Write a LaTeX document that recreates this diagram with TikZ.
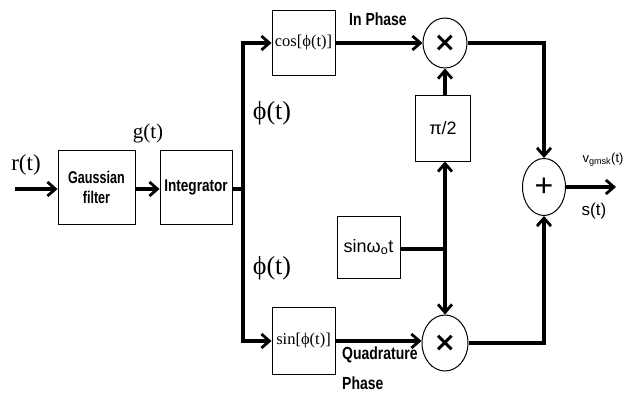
\documentclass[tikz,border=0pt]{standalone}
\usepackage{fontspec}
\setmainfont{Liberation Serif}
\setsansfont{Liberation Sans}
\newfontfamily\nar[FakeStretch=0.8]{Liberation Sans}
\newfontfamily\narr[FakeStretch=0.74]{Liberation Sans}
\newfontfamily\dvs{DejaVu Sans}
\usetikzlibrary{arrows.meta,shapes.geometric}
\begin{document}
\begin{tikzpicture}[x=1pt,y=-1pt,
  blk/.style={draw,line width=0.9pt,inner sep=0pt},
  mul/.style={draw,ellipse,line width=1pt,inner sep=0pt},
  wire/.style={line width=3.4pt},
  arr/.style={wire,-{Straight Barb[length=8pt,width=14pt,line width=2.8pt]}},
  lbl/.style={font=\nar\bfseries\fontsize{17.5}{18}\selectfont,inner sep=0pt},
  ser/.style={font=\fontsize{21}{22}\selectfont,inner sep=0pt}]
\useasboundingbox (0,0) rectangle (626,395);
% blocks
\node[blk,minimum width=77pt,minimum height=74pt,align=center,font=\narr\bfseries\fontsize{17}{20}\selectfont] (gauss) at (96.5,187) {Gaussian\\filter};
\node[blk,minimum width=72pt,minimum height=74pt,font=\nar\bfseries\fontsize{17}{18}\selectfont] (integ) at (196,187) {Integrator};
\node[blk,minimum width=63pt,minimum height=65pt,font=\fontsize{16.5}{17}\selectfont] (cosb) at (303.5,43) {cos[ϕ(t)]};
\node[blk,minimum width=63pt,minimum height=67pt,font=\fontsize{16.5}{17}\selectfont] (sinb) at (303.5,341) {sin[ϕ(t)]};
\node[blk,minimum width=55pt,minimum height=66pt,font=\sffamily\fontsize{18}{20}\selectfont] (pi2) at (443,128) {π/2};
\node[blk,minimum width=63pt,minimum height=62pt,font=\sffamily\fontsize{18}{19}\selectfont] (sinw) at (368.5,247) {sinω\textsubscript{o}t};
\node[mul,minimum width=44pt,minimum height=50pt,font=\dvs\bfseries\fontsize{27}{27}\selectfont] (m1) at (445,43) {×};
\node[mul,minimum width=46pt,minimum height=56pt,font=\dvs\bfseries\fontsize{27}{27}\selectfont] (m2) at (445,343) {×};
\node[mul,minimum width=43pt,minimum height=57pt,font=\sffamily\fontsize{32}{32}\selectfont] (sum) at (544,187) {+};
% coordinates
\coordinate (in) at (15,189);
\coordinate (jn) at (243,189);
\coordinate (jn2) at (445,249);
\coordinate (out) at (616,187);
% wires
\draw[arr] (in) -- (gauss.west |- in);
\draw[arr] (gauss.east |- in) -- (integ.west |- in);
\draw[wire] (integ.east |- in) -- (jn);
\draw[arr,line join=miter] (jn) |- (cosb.west);
\draw[arr,line join=miter] (jn) |- (sinb.west);
\draw[arr] (cosb.east) -- (m1.west);
\draw[arr] (sinb.east) -- (m2.west |- sinb.east);
\draw[wire] (sinw.east |- jn2) -- (jn2);
\draw[arr] (jn2) -- (pi2.south -| jn2);
\draw[arr] (jn2) -- (m2.north);
\draw[arr] (pi2.north -| m1) -- (m1.south);
\draw[arr,line join=miter] (m1.east) -| (sum.north);
\draw[arr,line join=miter] (m2.east) -| (sum.south);
\draw[arr] (sum.east) -- (out);
% labels
\node[ser,font=\fontsize{23}{24}\selectfont] (lr) at (26,165) {r(t)};
\node[ser] (lg) at (148,133) {g(t)};
\node[ser,font=\fontsize{26}{26}\selectfont] (lp1) at (272,113) {ϕ(t)};
\node[ser,font=\fontsize{26}{26}\selectfont] (lp2) at (272,268) {ϕ(t)};
\node[lbl] (lin) at (378,19) {In Phase};
\node[lbl,anchor=west] (lq) at (342,355) {Quadrature};
\node[lbl,anchor=west] (lph) at (342,383) {Phase};
\node[inner sep=0pt,font=\sffamily\fontsize{13}{14}\selectfont] (lv) at (603,160) {v\textsubscript{gmsk}(t)};
\node[inner sep=0pt,font=\sffamily\fontsize{17}{18}\selectfont] (ls) at (594,211) {s(t)};
\end{tikzpicture}
\end{document}
